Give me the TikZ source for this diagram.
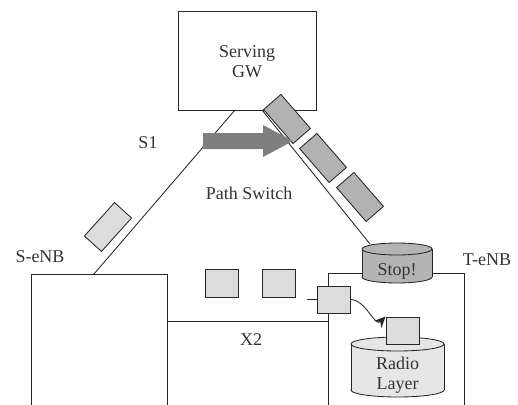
\documentclass[tikz,border=0pt]{standalone}
\usepackage{fontspec}
\setmainfont{Liberation Serif}
\usetikzlibrary{arrows.meta,calc}
\definecolor{pktlight}{HTML}{DCDCDC}
\definecolor{tilegray}{HTML}{B2B2B2}
\definecolor{stopgray}{HTML}{B4B4B4}
\definecolor{radiogray}{HTML}{E6E6E6}
\definecolor{arrowgray}{HTML}{7F7F7F}
\definecolor{ink}{HTML}{262626}
\begin{document}
\begin{tikzpicture}[x=1pt,y=-1pt,line width=0.85pt,
  box/.style={draw=ink,inner sep=0pt,anchor=north west},
  lbl/.style={font=\fontsize{18}{20}\selectfont,text=black!80,inner sep=0pt,align=center},
  pkt/.style={draw=ink,fill=pktlight,minimum width=33pt,minimum height=28pt,inner sep=0pt},
  tile/.style={draw=ink,minimum width=45pt,minimum height=23pt,inner sep=0pt},
  link/.style={draw=ink,line width=0.85pt}
]
\useasboundingbox (0,0) rectangle (518,404);
\clip (0,0) rectangle (518,404);
% enodeB boxes (extend below the picture)
\node[box,minimum width=136pt,minimum height=200pt] (senb) at (31,274) {};
\node[box,minimum width=136pt,minimum height=200pt] (tenb) at (328,273) {};
% Serving GW
\node[box,fill=white,minimum width=138pt,minimum height=99pt] (gw) at (178,11) {};
\node[lbl] (gwtext) at (247,62) {Serving\\GW};
% connection points
\coordinate (s1a) at (235,110);
\coordinate (s1b) at (94,274);
\coordinate (s1c) at (262,110);
\coordinate (stoptop) at (370,244);
\coordinate (x2a) at (167,321);
\coordinate (x2b) at (328,321);
\draw[link] (s1a) -- (s1b);
\draw[link] (s1c) -- (stoptop);
\draw[link] (x2a) -- (x2b);
% Stop! cylinder
\filldraw[draw=ink,fill=stopgray] (397,277) ellipse[x radius=35,y radius=6];
\fill[stopgray] (362,249) rectangle (432,277);
\draw[link] (362,249) -- (362,277);
\draw[link] (432,249) -- (432,277);
\filldraw[draw=ink,fill=stopgray] (397,249) ellipse[x radius=35,y radius=6];
\node[lbl] (stop) at (397,271) {Stop!};
% Radio Layer cylinder
\filldraw[draw=ink,fill=radiogray] (397.5,390) ellipse[x radius=46.5,y radius=7];
\fill[radiogray] (351,344) rectangle (444,390);
\draw[link] (351,344) -- (351,390);
\draw[link] (444,344) -- (444,390);
\filldraw[draw=ink,fill=radiogray] (397.5,344) ellipse[x radius=46.5,y radius=7];
\node[lbl] (radio) at (397.5,375) {Radio\\Layer};
% packets
\node[pkt] (p1) at (221.5,283.5) {};
\node[pkt] (p2) at (278.5,283.5) {};
\node[pkt,minimum height=27pt] (pe) at (333.5,299.5) {};
\node[pkt,minimum height=27pt] (pr) at (402.5,330.5) {};
\coordinate (tick) at (307,299.5);
\draw[link] (tick) -- (pe.west);
\draw[link,-{Stealth[length=11pt,width=10pt]}] (pe.east) to[out=0,in=225] (pr.north west);
% tiles on the S1 paths
\node[tile,fill=pktlight,rotate=48] (t0) at (108,227) {};
\node[tile,fill=tilegray,rotate=-49] (t1) at (287,119) {};
\node[tile,fill=tilegray,rotate=-49] (t2) at (323,158) {};
\node[tile,fill=tilegray,rotate=-49] (t3) at (360,197) {};
% path switch arrow
\fill[arrowgray] (203,133) -- (263,133) -- (263,125) -- (293,141) -- (263,157) -- (263,149) -- (203,149) -- cycle;
% labels
\node[lbl] (s1) at (148,143) {S1};
\node[lbl] (ps) at (249,193) {Path Switch};
\node[lbl] (senbl) at (40,257) {S-eNB};
\node[lbl] (tenbl) at (487,260) {T-eNB};
\node[lbl] (x2) at (251,340) {X2};
\end{tikzpicture}
\end{document}
